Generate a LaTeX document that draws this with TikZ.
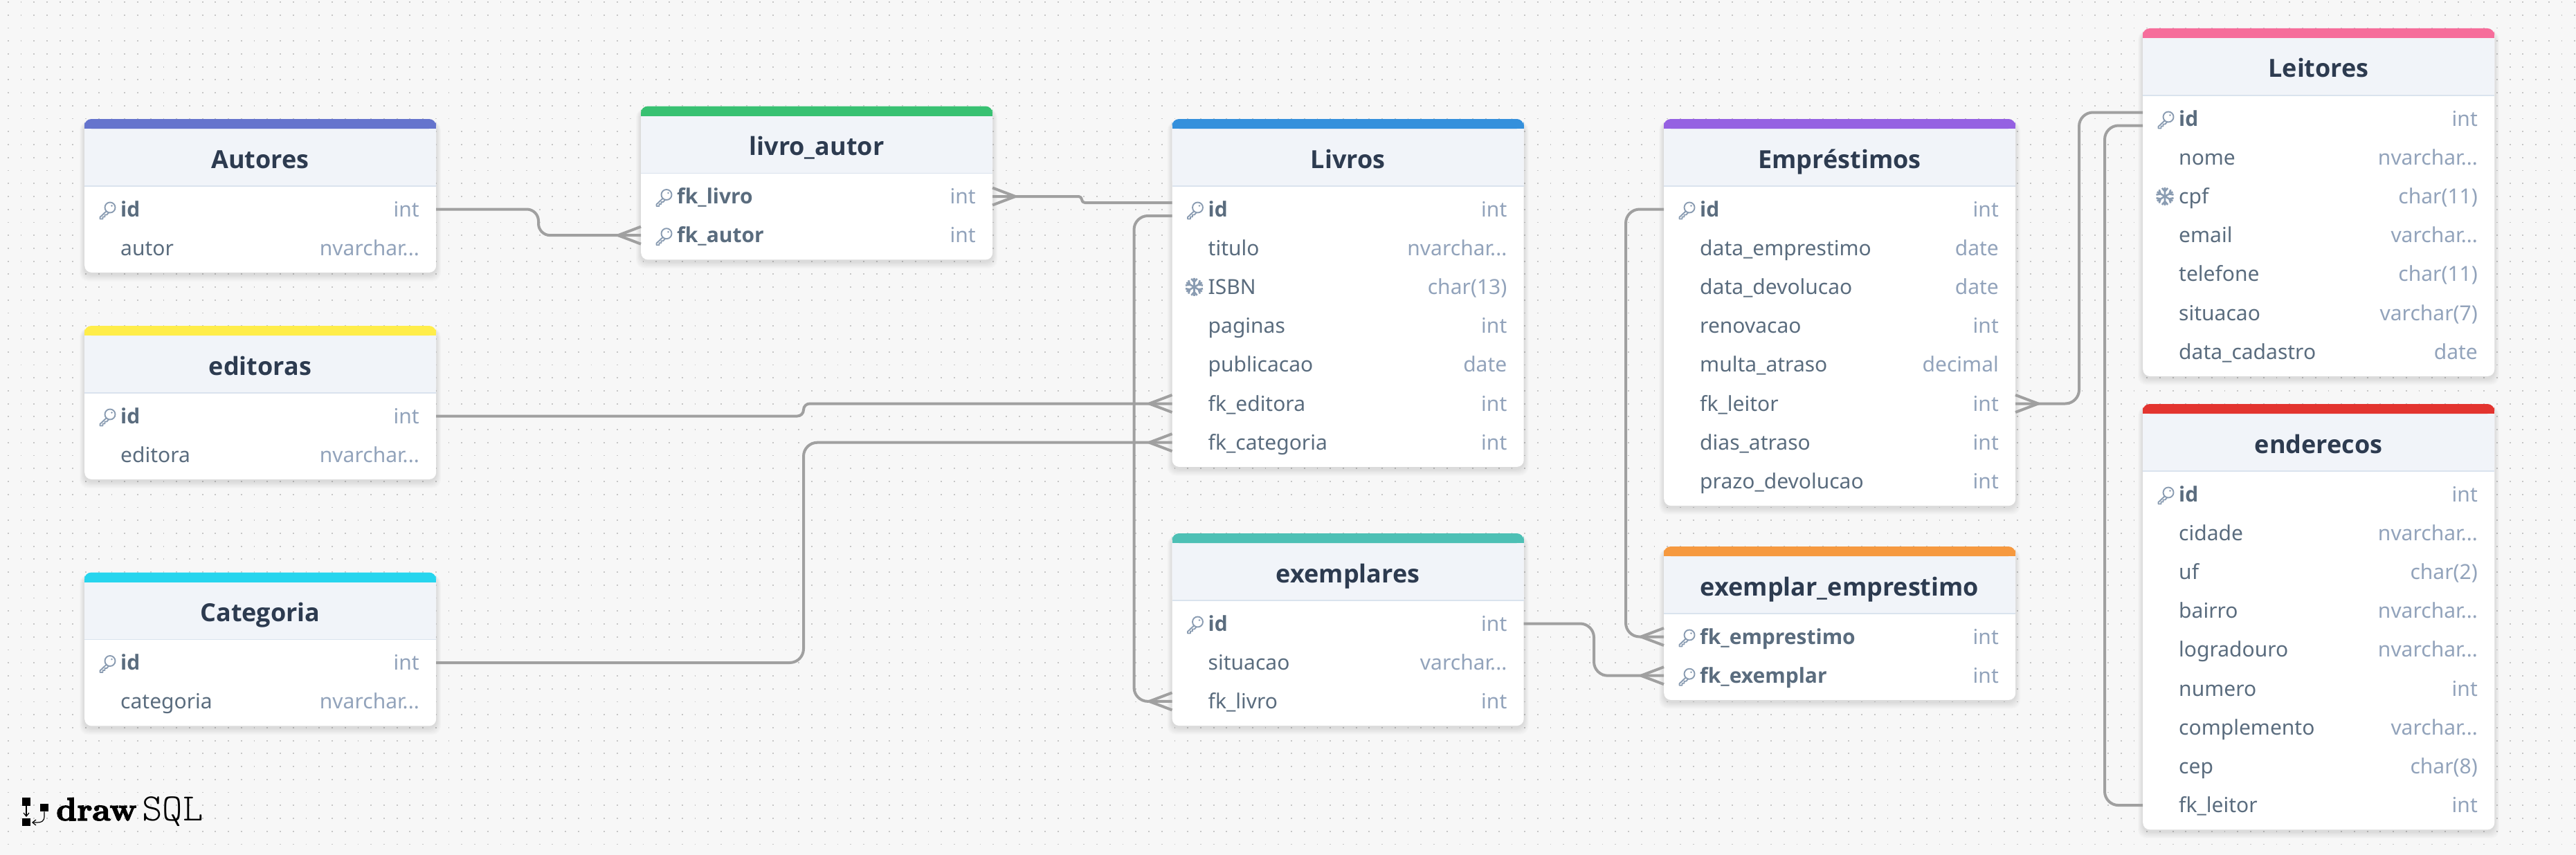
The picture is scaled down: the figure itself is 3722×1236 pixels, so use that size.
\documentclass[tikz,border=0pt]{standalone}
\usepackage{fontspec}
\usetikzlibrary{calc,arrows.meta}
\newfontfamily\uifont{Noto Sans}
\newfontfamily\uibold{Open Sans}
\newfontfamily\logoB[FakeBold=3,FakeStretch=1.0]{lmroman10-bold.otf}
\newfontfamily\logoL{lmmonolt10-regular.otf}
\definecolor{bgc}{HTML}{F7F7F7}
\definecolor{dotc}{HTML}{C6C6C6}
\definecolor{headc}{HTML}{F1F4F9}
\definecolor{rulec}{HTML}{DAE3EE}
\definecolor{titlec}{HTML}{2D3B50}
\definecolor{fieldc}{HTML}{5A6C7E}
\definecolor{typec}{HTML}{92A3BB}
\definecolor{iconc}{HTML}{8A9CB2}
\definecolor{linec}{HTML}{A0A0A0}
\definecolor{cAut}{HTML}{6574CD}
\definecolor{cLau}{HTML}{38C172}
\definecolor{cLiv}{HTML}{3490DC}
\definecolor{cEmp}{HTML}{9561E2}
\definecolor{cLei}{HTML}{F66D9B}
\definecolor{cEnd}{HTML}{E3342F}
\definecolor{cEdi}{HTML}{FFED4A}
\definecolor{cCat}{HTML}{26D5EE}
\definecolor{cExe}{HTML}{4DC0B5}
\definecolor{cExm}{HTML}{F6993F}
\newcommand\nvc{nvarchar...}
\newcommand\vrc{varchar...}
\tikzset{
  conn/.style={draw=linec,line width=4pt,line join=round},
  cardbox/.style={fill=white,rounded corners=10pt,inner sep=0pt,minimum width=508pt,anchor=north west},
  titletext/.style={font=\uibold\bfseries\fontsize{36}{40}\selectfont,text=titlec,anchor=base,inner sep=0pt},
  fieldtext/.style={font=\uifont\fontsize{30}{36}\selectfont,text=fieldc,anchor=base west,inner sep=0pt},
  keytext/.style={font=\uibold\bfseries\fontsize{30}{36}\selectfont,text=fieldc,anchor=base west,inner sep=0pt},
  typetext/.style={font=\uifont\fontsize{30}{36}\selectfont,text=typec,anchor=base east,inner sep=0pt},
}
\newcommand\keyicon[2]{%
  \begin{scope}[shift={(#1,#2)},draw=iconc,line width=1.9pt,line join=round]
    \draw (5,-3) circle (7.5);
    \fill[iconc] (7.5,-5.5) circle (1.4);
    \draw (0.2,1.8) -- (-9.5,11) -- (-9.5,13.5) -- (-5.5,13.5) -- (-5.5,10.5) -- (-2.5,10.5) -- (-2.5,7.5) -- (0.2,7.5) -- (3.2,4.3);
  \end{scope}}
\newcommand\snowicon[2]{%
  \begin{scope}[shift={(#1,#2)},draw=iconc,line width=2.6pt]
    \foreach \a in {0,60,120,180,240,300}
      \draw[rotate=\a] (0,0) -- (0,13) (-4.2,12) -- (0,7.2) -- (4.2,12);
  \end{scope}}
% id, x, top, title, colour, nrows, rows
\newcommand\dbtable[7]{%
  \pgfmathsetmacro\cardh{129.5+(#6-1)*56.2+36}
  \foreach \s in {1,...,7}
    \fill[black,opacity=0.016,rounded corners=12pt] (#2-\s,#3+4) rectangle (#2+508+\s,#3+\cardh+3+\s*1.4);
  \node[cardbox,minimum height=\cardh pt] (#1) at (#2,#3) {};
  \fill[headc,rounded corners=8pt] (#2,#3+97) -- (#2,#3+6) -- (#2+508,#3+6) -- (#2+508,#3+97) -- cycle;
  \fill[headc] (#2,#3+88) rectangle (#2+508,#3+97);
  \fill[#5,rounded corners=10pt] (#2,#3+14) -- (#2,#3) -- (#2+508,#3) -- (#2+508,#3+14) -- cycle;
  \fill[#5] (#2,#3+8) rectangle (#2+508,#3+14);
  \draw[rulec,line width=1.5pt] (#2,#3+97) -- (#2+508,#3+97);
  \node[titletext] (#1-title) at (#2+254,#3+71) {#4};
  \foreach \fl/\fn/\ft [count=\i] in {#7} {
    \pgfmathsetmacro\ry{#3+129.5+(\i-1)*56.2}
    \coordinate (#1-L\i) at (#2,\ry+1);
    \coordinate (#1-R\i) at (#2+508,\ry+1);
    \ifnum\fl=1
      \keyicon{#2+32}{\ry+1.5}
      \node[keytext] (#1-f\i) at (#2+52,\ry+11.5) {\fn};
    \else
      \ifnum\fl=2 \snowicon{#2+32}{\ry+1} \fi
      \node[fieldtext] (#1-f\i) at (#2+52,\ry+11.5) {\fn};
    \fi
    \node[typetext] (#1-t\i) at (#2+484,\ry+11.5) {\ft};
  }
}
\newcommand\crowL[1]{\draw[conn] ($(#1)+(0,-12.5)$) -- ($(#1)+(-33,0)$) -- ($(#1)+(0,12.5)$);}
\newcommand\crowR[1]{\draw[conn] ($(#1)+(0,-12.5)$) -- ($(#1)+(33,0)$) -- ($(#1)+(0,12.5)$);}
\begin{document}
\begin{tikzpicture}[x=1pt,y=-1pt]
\useasboundingbox (0,0) rectangle (3722,1236);
\fill[bgc] (0,0) rectangle (3722,1236);
\foreach \r in {0,...,65}
  \draw[dotc,line width=1.8pt,dash pattern=on 1.8pt off 16.93pt] (10.8,3+\r*18.73) -- (3722,3+\r*18.73);

\dbtable{aut}{122}{172}{Autores}{cAut}{2}{1/id/int,0/autor/\nvc}
\dbtable{lau}{926}{153.5}{livro\_autor}{cLau}{2}{1/fk\_livro/int,1/fk\_autor/int}
\dbtable{liv}{1693.5}{172}{Livros}{cLiv}{7}{1/id/int,0/titulo/\nvc,2/ISBN/char(13),0/paginas/int,0/publicacao/date,0/fk\_editora/int,0/fk\_categoria/int}
\dbtable{emp}{2404}{172}{Empréstimos}{cEmp}{8}{1/id/int,0/data\_emprestimo/date,0/data\_devolucao/date,0/renovacao/int,0/multa\_atraso/decimal,0/fk\_leitor/int,0/dias\_atraso/int,0/prazo\_devolucao/int}
\dbtable{lei}{3096}{41}{Leitores}{cLei}{7}{1/id/int,0/nome/\nvc,2/cpf/char(11),0/email/\vrc,0/telefone/char(11),0/situacao/varchar(7),0/data\_cadastro/date}
\dbtable{end}{3096}{584}{enderecos}{cEnd}{9}{1/id/int,0/cidade/\nvc,0/uf/char(2),0/bairro/\nvc,0/logradouro/\nvc,0/numero/int,0/complemento/\vrc,0/cep/char(8),0/fk\_leitor/int}
\dbtable{edi}{122}{471}{editoras}{cEdi}{2}{1/id/int,0/editora/\nvc}
\dbtable{cat}{122}{827.5}{Categoria}{cCat}{2}{1/id/int,0/categoria/\nvc}
\dbtable{exe}{1693.5}{771}{exemplares}{cExe}{3}{1/id/int,0/situacao/\vrc,0/fk\_livro/int}
\dbtable{exm}{2404}{790}{exemplar\_emprestimo}{cExm}{2}{1/fk\_emprestimo/int,1/fk\_exemplar/int}

% routing columns
\coordinate (v1) at (778,0);
\coordinate (v2) at (1563,0);
\coordinate (v3) at (1161,0);
\coordinate (v4) at (1638.5,0);
\coordinate (v5) at (2303,0);
\coordinate (v6) at (2349,0);
\coordinate (v7) at (3004,0);
\coordinate (v8) at (3041,0);
\coordinate (livA) at ($(liv-L1)+(0,-9.5)$);
\coordinate (livB) at ($(liv-L1)+(0,9.5)$);
\coordinate (leiA) at ($(lei-L1)+(0,-9)$);
\coordinate (leiB) at ($(lei-L1)+(0,10)$);

\draw[conn,rounded corners=17pt] (aut-R1) -- (aut-R1 -| v1) -- (lau-L2 -| v1) -- (lau-L2);
\crowL{lau-L2}
\draw[conn,rounded corners=4.5pt] (lau-R1) -- (lau-R1 -| v2) -- (livA -| v2) -- (livA);
\crowR{lau-R1}
\draw[conn,rounded corners=9pt] (edi-R1) -- (edi-R1 -| v3) -- (liv-L6 -| v3) -- (liv-L6);
\crowL{liv-L6}
\draw[conn,rounded corners=20pt] (cat-R1) -- (cat-R1 -| v3) -- (liv-L7 -| v3) -- (liv-L7);
\crowL{liv-L7}
\draw[conn,rounded corners=20pt] (livB) -- (livB -| v4) -- (exe-L3 -| v4) -- (exe-L3);
\crowL{exe-L3}
\draw[conn,rounded corners=20pt] (exe-R1) -- (exe-R1 -| v5) -- (exm-L2 -| v5) -- (exm-L2);
\crowL{exm-L2}
\draw[conn,rounded corners=20pt] (emp-L1) -- (emp-L1 -| v6) -- (exm-L1 -| v6) -- (exm-L1);
\crowL{exm-L1}
\draw[conn,rounded corners=20pt] (emp-R6) -- (emp-R6 -| v7) -- (leiA -| v7) -- (leiA);
\crowR{emp-R6}
\draw[conn,rounded corners=20pt] (leiB) -- (leiB -| v8) -- (end-L9 -| v8) -- (end-L9);

% logo
\fill[black] (32.3,1153.3) rectangle (44,1165);
\fill[black] (32.3,1182.7) rectangle (44,1194.3);
\fill[black] (58,1162) rectangle (70,1173.3);
\draw[black,line width=1.2pt,-{Straight Barb[length=5pt,width=8pt]}] (38,1165) -- (38,1181);
\draw[black,line width=1.2pt,-{Straight Barb[length=5pt,width=8pt]}] (64,1173.3) -- (64,1180) .. controls (64,1187) and (60,1189) .. (54,1189) -- (46,1189);
\node[anchor=base west,inner sep=0pt,font=\logoB\fontsize{47}{47}\selectfont] (logoa) at (81,1186) {draw};
\node[anchor=base west,inner sep=0pt,font=\logoL\fontsize{56}{56}\selectfont] (logob) at (205,1186) {SQL};
\end{tikzpicture}
\end{document}
